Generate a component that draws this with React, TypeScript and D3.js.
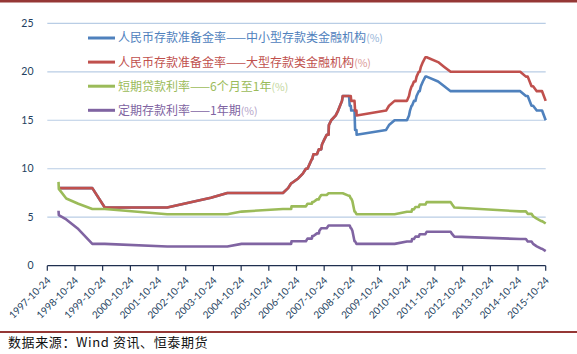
import * as d3 from 'd3'

// union of change dates; every series is sampled on these rows
const DATES = [
  '1998-03-21', '1998-03-25', '1998-07-01', '1998-12-07', '1999-06-10', '1999-11-21',
  '2002-02-21', '2003-09-21', '2004-04-25', '2004-10-29', '2006-04-28', '2006-07-05',
  '2006-08-15', '2006-08-19', '2006-11-15', '2007-01-15', '2007-02-25', '2007-03-18',
  '2007-04-16', '2007-05-15', '2007-05-19', '2007-06-05', '2007-07-21', '2007-08-15',
  '2007-08-22', '2007-09-15', '2007-09-25', '2007-10-25', '2007-11-26', '2007-12-21',
  '2007-12-25', '2008-01-25', '2008-03-25', '2008-04-25', '2008-05-20', '2008-06-15',
  '2008-06-25', '2008-09-16', '2008-09-25', '2008-10-09', '2008-10-15', '2008-10-30',
  '2008-11-27', '2008-12-05', '2008-12-23', '2008-12-25', '2010-01-18', '2010-02-25',
  '2010-05-10', '2010-10-20', '2010-11-16', '2010-11-29', '2010-12-20', '2010-12-26',
  '2011-01-20', '2011-02-09', '2011-02-24', '2011-03-25', '2011-04-06', '2011-04-21',
  '2011-05-18', '2011-06-20', '2011-07-07', '2011-12-05', '2012-02-24', '2012-05-18',
  '2012-06-08', '2012-07-06', '2014-11-22', '2015-02-05', '2015-03-01', '2015-04-20',
  '2015-05-11', '2015-06-28', '2015-08-26', '2015-09-06', '2015-10-24',
]

const RRR_SMALL = [
  8, 8, 8, 8, 8, 6, 6, 7, 7.5, 7.5, 7.5, 8,
  8.5, 8.5, 9, 9.5, 10, 10, 10.5, 11, 11, 11.5, 11.5, 12,
  12, 12, 12.5, 13, 13.5, 13.5, 14.5, 15, 15.5, 16, 16.5, 17,
  17.5, 17.5, 16.5, 16.5, 16, 16, 16, 14, 14, 13.5, 14, 14.5,
  15, 15, 15.5, 16, 16.5, 16.5, 17, 17, 17.5, 18, 18, 18.5,
  19, 19.5, 19.5, 19, 18.5, 18, 18, 18, 18, 17.5, 17.5, 16.5,
  16.5, 16, 16, 16, 15,
]

const RRR_LARGE = [
  8, 8, 8, 8, 8, 6, 6, 7, 7.5, 7.5, 7.5, 8,
  8.5, 8.5, 9, 9.5, 10, 10, 10.5, 11, 11, 11.5, 11.5, 12,
  12, 12, 12.5, 13, 13.5, 13.5, 14.5, 15, 15.5, 16, 16.5, 17,
  17.5, 17.5, 17.5, 17.5, 17, 17, 17, 16, 16, 15.5, 16, 16.5,
  17, 17, 17.5, 18, 18.5, 18.5, 19, 19, 19.5, 20, 20, 20.5,
  21, 21.5, 21.5, 21, 20.5, 20, 20, 20, 20, 19.5, 19.5, 18.5,
  18.5, 18, 18, 18, 17,
]

const LOAN_RATE = [
  8.64, 7.92, 6.93, 6.39, 5.85, 5.85, 5.31, 5.31, 5.31, 5.58, 5.85, 5.85,
  5.85, 6.12, 6.12, 6.12, 6.12, 6.39, 6.39, 6.39, 6.57, 6.57, 6.84, 6.84,
  7.02, 7.29, 7.29, 7.29, 7.29, 7.47, 7.47, 7.47, 7.47, 7.47, 7.47, 7.47,
  7.47, 7.2, 7.2, 6.93, 6.93, 6.66, 5.58, 5.58, 5.31, 5.31, 5.31, 5.31,
  5.31, 5.56, 5.56, 5.56, 5.56, 5.81, 5.81, 6.06, 6.06, 6.06, 6.31, 6.31,
  6.31, 6.31, 6.56, 6.56, 6.56, 6.56, 6.31, 6.0, 5.6, 5.6, 5.35, 5.35,
  5.1, 4.85, 4.6, 4.6, 4.35,
]

const DEPOSIT_RATE = [
  5.67, 5.22, 4.77, 3.78, 2.25, 2.25, 1.98, 1.98, 1.98, 2.25, 2.25, 2.25,
  2.25, 2.52, 2.52, 2.52, 2.52, 2.79, 2.79, 2.79, 3.06, 3.06, 3.33, 3.33,
  3.6, 3.87, 3.87, 3.87, 3.87, 4.14, 4.14, 4.14, 4.14, 4.14, 4.14, 4.14,
  4.14, 4.14, 4.14, 3.87, 3.87, 3.6, 2.52, 2.52, 2.25, 2.25, 2.25, 2.25,
  2.25, 2.5, 2.5, 2.5, 2.5, 2.75, 2.75, 3.0, 3.0, 3.0, 3.25, 3.25,
  3.25, 3.25, 3.5, 3.5, 3.5, 3.5, 3.25, 3.0, 2.75, 2.75, 2.5, 2.5,
  2.25, 2.0, 1.75, 1.75, 1.5,
]

const X_TICKS = [
  '1997-10-24', '1998-10-24', '1999-10-24', '2000-10-24', '2001-10-24', '2002-10-24',
  '2003-10-24', '2004-10-24', '2005-10-24', '2006-10-24', '2007-10-24', '2008-10-24',
  '2009-10-24', '2010-10-24', '2011-10-24', '2012-10-24', '2013-10-24', '2014-10-24',
  '2015-10-24',
]
const Y_TICKS = [0, 5, 10, 15, 20, 25]

const SERIES = [
  { name: '人民币存款准备金率——中小型存款类金融机构', values: RRR_SMALL, color: '#4f81bd', light: '#95b3d7' },
  { name: '人民币存款准备金率——大型存款类金融机构', values: RRR_LARGE, color: '#c0504d', light: '#d99694' },
  { name: '短期贷款利率——6个月至1年', values: LOAN_RATE, color: '#9bbb59', light: '#c3d69b' },
  { name: '定期存款利率——1年期', values: DEPOSIT_RATE, color: '#8064a2', light: '#b3a2c7' },
]

const W = 577
const H = 354
const parse = d3.timeParse('%Y-%m-%d')

export default function App() {
  const x = d3
    .scaleTime()
    .domain([parse(X_TICKS[0])!, parse(X_TICKS[X_TICKS.length - 1])!])
    .range([47.3, 545.7])
  const y = d3.scaleLinear().domain([0, 25]).range([265.7, 23.3])
  const dates = DATES.map((d) => parse(d)!)

  const line = d3
    .line<number>()
    .x((_, i) => x(dates[i]))
    .y((v) => y(v))

  const axisFont = 'Lato, "Open Sans", sans-serif'
  const cjkFont = '"Noto Sans CJK SC", "Noto Sans", sans-serif'

  return (
    <svg
      width={W}
      height={H}
      style={{ position: 'absolute', left: 0, top: 0, background: '#fff' }}
    >
      <rect x={0} y={0} width={W} height={2.5} fill="#953735" />

      {/* gridlines */}
      {Y_TICKS.filter((t) => t > 0).map((t) => (
        <line key={t} x1={47.3} x2={545.7} y1={y(t)} y2={y(t)} stroke="#b9cde5" strokeWidth={1.2} />
      ))}

      {/* y labels */}
      {Y_TICKS.map((t) => (
        <text
          key={t}
          x={33.5}
          y={y(t)}
          dy="0.35em"
          textAnchor="end"
          fontFamily={axisFont}
          fontSize={10.5}
          fill="#243f60"
        >
          {t}
        </text>
      ))}

      {/* x axis */}
      <line x1={47.3} x2={545.7} y1={y(0)} y2={y(0)} stroke="#1f2f4f" strokeWidth={1.3} />
      {X_TICKS.map((t) => {
        const tx = x(parse(t)!)
        return (
          <g key={t}>
            <line x1={tx} x2={tx} y1={y(0)} y2={y(0) + 5} stroke="#1f2f4f" strokeWidth={1.2} />
            <text
              transform={`translate(${tx + 1.5},${y(0) + 13}) rotate(-45)`}
              dy="0.35em"
              textAnchor="end"
              fontFamily={axisFont}
              fontSize={10}
              fill="#243f60"
            >
              {t}
            </text>
          </g>
        )
      })}

      {/* series */}
      {SERIES.map((s) => (
        <path
          key={s.name}
          d={line(s.values) ?? ''}
          fill="none"
          stroke={s.color}
          strokeWidth={2.6}
          strokeLinejoin="round"
        />
      ))}

      {/* legend */}
      {SERIES.map((s, i) => {
        const ly = 38 + i * 24.1
        return (
          <g key={s.name}>
            <line x1={88} x2={115} y1={ly} y2={ly} stroke={s.color} strokeWidth={3} />
            <text x={118} y={ly + 4.4} fontFamily={cjkFont} fontSize={12} fill={s.color}>
              {s.name}
              <tspan fill={s.light} fontSize={10.5}>(%)</tspan>
            </text>
          </g>
        )
      })}

      <rect x={0} y={331} width={W} height={2} fill="#953735" />
      <text x={8} y={347} fontFamily={cjkFont} fontSize={13} letterSpacing={0.6} fill="#111">
        数据来源：Wind 资讯、恒泰期货
      </text>
    </svg>
  )
}
